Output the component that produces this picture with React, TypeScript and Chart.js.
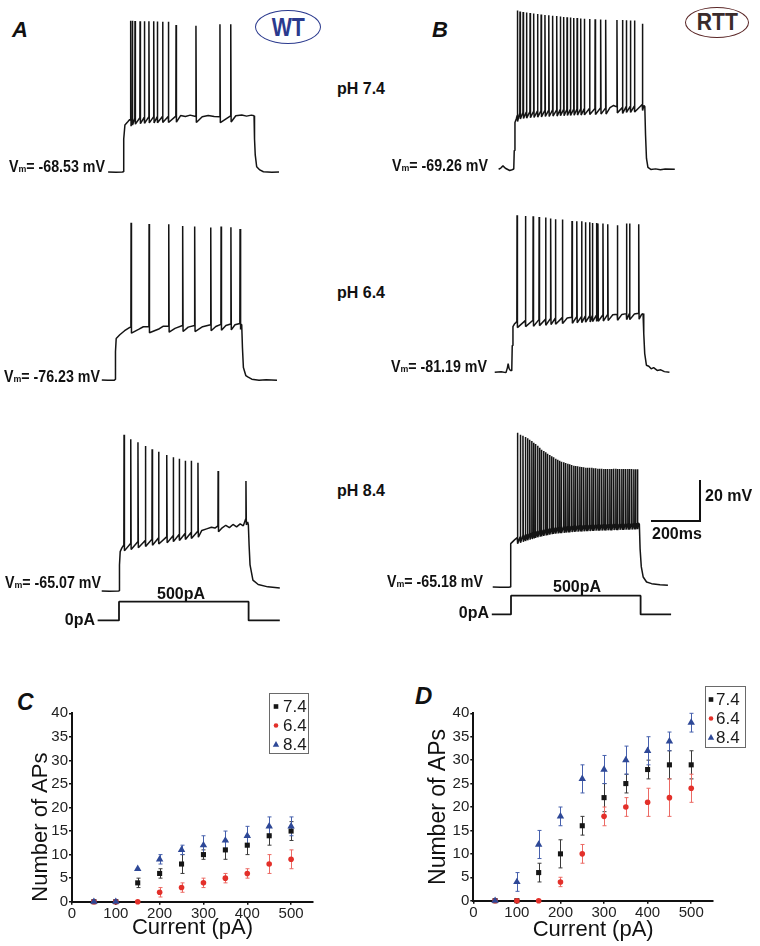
import React, { useEffect, useRef } from 'react';
import { Chart, registerables } from 'chart.js';

Chart.register(...registerables);

const FONT = '"Liberation Sans", Arial, Helvetica, sans-serif';
Chart.defaults.font.family = FONT;

// ================= DATA =================
// Panels C & D: number of APs vs injected current
const CURRENT_PA = [50, 100, 150, 200, 250, 300, 350, 400, 450, 500];
const PH_LABELS = ['7.4', '6.4', '8.4'];

const C_PH74 = [0, 0, 4, 6, 8, 10, 11, 12, 14, 15];
const C_PH74_ERR = [0, 0, 1, 1, 2, 1, 2, 2, 2, 2];
const C_PH64 = [0, 0, 0, 2, 3, 4, 5, 6, 8, 9];
const C_PH64_ERR = [0, 0, 0, 1, 1, 1, 1, 1, 2, 2];
const C_PH84 = [0, 0, 7, 9, 11, 12, 13, 14, 16, 16];
const C_PH84_ERR = [0, 0, 0, 1, 1, 2, 2, 2, 2, 2];

const D_PH74 = [0, 0, 6, 10, 16, 22, 25, 28, 29, 29];
const D_PH74_ERR = [0, 0, 2, 3, 2, 3, 2, 2, 3, 3];
const D_PH64 = [0, 0, 0, 4, 10, 18, 20, 21, 22, 24];
const D_PH64_ERR = [0, 0, 0, 1, 2, 2, 2, 3, 4, 3];
const D_PH84 = [0, 4, 12, 18, 26, 28, 30, 32, 34, 38];
const D_PH84_ERR = [0, 2, 3, 2, 3, 3, 3, 3, 2, 2];

// Voltage traces (time in ms from step onset, membrane potential in mV)
const STEP_PA = 500;
const STEP_MS = 540;
const SCALE_BAR_MS = 200;
const SCALE_BAR_MV = 20;

// WT pH 7.4
const WT74_VM = -68.53;
const WT74_SHAPE = [[-62, -68.5], [-30, -68.7], [-2, -68.5], [0, -68.4], [3, -52], [8, -45], [20, -43.4], [28, -42.3],
  [240, -40.3], [260, -40.8], [280, -40.1], [330, -40.9], [355, -40.3], [380, -40.8], [470, -40.4], [495, -40], [515, -40.6],
  [535, -40.1], [546, -40.4], [548, -52], [551, -60], [557, -65.9], [570, -67.5], [585, -68.4], [620, -68.6], [650, -68.5]];
const WT74_SPIKE_T = [32, 39, 50, 71, 89, 108, 128, 143, 165, 189, 221, 304, 404, 449];
const WT74_SPIKE_PEAK = [7.1, 7.1, 7.0, 6.9, 6.9, 6.8, 6.8, 6.7, 6.6, 6.6, 5.0, 4.6, 5.3, 5.3];
const WT74_SPIKE_BASE = [-42.6, -42, -41.6, -41.4, -41.2, -41, -41, -40.9, -40.8, -40.8, -40.6, -40.8, -40.9, -40.5];

// WT pH 6.4
const WT64_VM = -76.23;
const WT64_SHAPE = [[-55, -76.2], [-30, -76.4], [-2, -76.3], [0, -76], [2, -62], [5, -55.5], [20, -53.6], [40, -51.6], [60, -50],
  [100, -50.8], [118, -49.6], [185, -50.6], [200, -49.4], [250, -50.4], [305, -49.8], [365, -49.6], [420, -49.5], [462, -49],
  [500, -48.6], [524, -48.3], [528, -48.6], [531, -60], [535, -70], [545, -74], [555, -74.8], [570, -75.8], [600, -76.4],
  [630, -76.1], [675, -76.3]];
const WT64_SPIKE_T = [67, 142, 224, 282, 332, 399, 442, 483, 521];
const WT64_SPIKE_PEAK = [2.4, 1.8, 1.6, 0.8, 0.5, 0, 0.5, 0.2, -0.7];
const WT64_SPIKE_BASE = [-49.8, -49.6, -49.3, -49, -49, -48.6, -48.4, -48.2, -48];

// WT pH 8.4
const WT84_VM = -65.07;
const WT84_SHAPE = [[-72, -65.1], [-40, -65.2], [-2, -65.1], [0, -65], [2, -52], [5, -45.4], [12, -43.5],
  [345, -34.8], [365, -34], [385, -33.2], [400, -33.6], [430, -33.5], [445, -32.2], [460, -33.4], [475, -31.8], [490, -33],
  [505, -31.5], [518, -32.5], [536, -30.5], [539, -32], [542, -42], [546, -52], [558, -59.6], [580, -61.8], [620, -63], [670, -63.6]];
const WT84_SPIKE_T = [21, 49, 79, 110, 138, 165, 199, 226, 251, 276, 301, 329, 413, 529];
const WT84_SPIKE_PEAK = [13.0, 10.8, 9.3, 7.4, 5.8, 4.6, 2.9, 1.8, 1.1, 0.1, 0.1, -0.9, -5.1, -10.1];
const WT84_SPIKE_BASE = [-42, -41.3, -40.5, -39.8, -39.2, -38.6, -38, -37.4, -36.8, -36.3, -35.8, -35.2, -32.5, -29];

// RTT pH 7.4
const RTT74_VM = -69.26;
const RTT74_SHAPE = [[-64, -69.4], [-55, -68.8], [-46, -67.7], [-36, -68.9], [-18, -70], [-8, -69.6], [-1, -69.3], [1, -60],
  [4, -46], [10, -44], [400, -38.6], [415, -37.5], [541, -37.5], [545, -38], [548, -52], [552, -64], [558, -68.5], [570, -69.5],
  [590, -69.2], [610, -69.6], [630, -69.3], [670, -69.4]];
const RTT74_SPIKE_T = [14, 25, 38, 52, 67, 82, 98, 113, 129, 145, 161, 178, 193, 207, 221, 235, 249, 263, 278, 293, 315, 338,
  361, 382, 429, 452, 468, 485, 502, 535];
const RTT74_SPIKE_PEAK = [10, 9.5, 9.2, 9.0, 8.8, 8.5, 8.3, 8.0, 7.8, 7.6, 7.4, 7.2, 7.0, 6.8, 6.6, 6.5, 6.3, 6.2, 6.0, 5.9,
  5.8, 5.6, 5.5, 5.4, 5.3, 5.2, 5.1, 5.0, 5.0, 3.4];
const RTT74_SPIKE_BASE = [-42.5, -41.3, -41, -40.8, -40.6, -40.5, -40.3, -40.2, -40, -40, -39.8, -39.8, -39.6, -39.6, -39.5,
  -39.5, -39.4, -39.3, -39.3, -39.2, -39, -39, -38.8, -38.8, -38.2, -38.5, -38, -38, -37.8, -37];

// RTT pH 6.4
const RTT64_VM = -81.19;
const RTT64_SHAPE = [[-72, -81.3], [-45, -81.1], [-25, -81.5], [-19, -79], [-16, -77], [-12, -79.5], [-6, -80.5], [-1, -80.5],
  [1, -68], [4, -58.5], [10, -57.2], [16, -56.5], [230, -54.2], [420, -52.6], [458, -52.4], [510, -52.2], [540, -52.4], [546, -52],
  [549, -62], [553, -72], [560, -77.8], [570, -78.3], [580, -79.6], [590, -79], [605, -80.4], [620, -80.1], [635, -81], [656, -81.3]];
const RTT64_SPIKE_T = [21, 56, 88, 113, 140, 161, 181, 210, 250, 270, 290, 306, 324, 335, 352, 358, 379, 399, 439, 477, 490, 528];
const RTT64_SPIKE_PEAK = [-2.8, -3.2, -3.3, -3.7, -4.0, -4.5, -4.8, -5.0, -5.7, -5.8, -5.8, -6.3, -6.3, -6.7, -6.7, -7.0, -7.0,
  -7.3, -7.8, -7.0, -7.0, -7.3];
const RTT64_SPIKE_BASE = [-56, -55.5, -55.3, -55, -54.8, -54.5, -54.3, -54, -53.8, -53.6, -53.5, -53.3, -53.2, -53, -52.9, -52.8,
  -52.7, -52.5, -52.3, -52, -52, -51.8];

// RTT pH 8.4
const RTT84_VM = -65.18;
const RTT84_SHAPE = [[-72, -65.2], [-40, -65.3], [-5, -65.3], [0, -65.2], [2, -52], [4, -43.5], [20, -41.5], [535, -33.2],
  [539, -33.8], [542, -46], [547, -55], [555, -60.2], [569, -62.7], [590, -63.5], [625, -64], [658, -64.3]];
const RTT84_SPIKE_T = [31, 43, 54, 64, 73, 82, 91, 99, 106, 115, 124, 131, 140, 149, 156, 165, 174, 181, 190, 199,
  207, 214, 224, 232, 241, 248, 257, 266, 273, 282, 291, 298, 307, 316, 323, 332, 341, 348, 357, 366,
  373, 382, 391, 398, 407, 416, 423, 432, 441, 448, 457, 466, 473, 482, 491, 498, 507, 516, 523, 531];
const RTT84_SPIKE_PEAK = [12.0, 11.0, 10.5, 9.8, 9.2, 8.5, 7.8, 7.0, 6.3, 5.5, 4.5, 3.5, 2.8, 2.2, 1.5, 0.8, 0.2, -0.3, -1.0, -1.5,
  -2.0, -2.5, -2.8, -3.2, -3.5, -3.8, -4.2, -4.5, -4.7, -4.8, -5.0, -5.2, -5.3, -5.5, -5.5, -5.6, -5.6, -5.8, -5.8, -6.0,
  -6.0, -6.0, -6.2, -6.2, -6.2, -6.2, -6.2, -6.0, -6.0, -6.2, -6.2, -6.2, -6.2, -6.2, -6.2, -6.2, -6.2, -6.3, -6.3, -6.3];
const RTT84_SPIKE_BASE = [-40.5, -40, -39.6, -39.2, -38.8, -38.5, -38.2, -37.9, -37.6, -37.3, -37, -36.8, -36.6, -36.4, -36.2,
  -36, -35.8, -35.6, -35.5, -35.4, -35.3, -35.2, -35.1, -35, -34.9, -34.8, -34.7, -34.6, -34.5, -34.5, -34.4, -34.4, -34.3,
  -34.3, -34.2, -34.2, -34.1, -34.1, -34, -34, -34, -33.9, -33.9, -33.9, -33.8, -33.8, -33.8, -33.7, -33.7, -33.7, -33.6,
  -33.6, -33.6, -33.5, -33.5, -33.5, -33.4, -33.4, -33.4, -33.3];

// Current-step protocol
const STEP_A_T = [-89, 0, 0, STEP_MS, STEP_MS, 670];
const STEP_B_T = [-80, 0, 0, STEP_MS, STEP_MS, 667];
const STEP_I = [0, 0, STEP_PA, STEP_PA, 0, 0];

// ================= LAYOUT CONSTANTS =================
const PX_PER_MS = 0.24;
const PX_PER_MV = 2;
const PX_PER_PA = 0.0375;
const T_MIN = -100;
const T_MAX = 850;
const V_BELOW = 15;
const V_ABOVE = 85;
const PA_MIN = -150;
const PA_MAX = 650;

function buildTrace(shape: number[][], ts: number[], peaks: number[], bases: number[]) {
  const pts: { x: number; y: number }[] = shape.map(([x, y]) => ({ x, y }));
  ts.forEach((t, i) => {
    pts.push({ x: t - 0.8, y: bases[i] }, { x: t, y: peaks[i] }, { x: t + 1.6, y: bases[i] - 3 });
  });
  pts.sort((a, b) => a.x - b.x);
  return pts;
}

function lineConfig(points: any[], yMin: number, yMax: number, plugins: any[] = [], width = 1.5) {
  return {
    type: 'line',
    data: {
      datasets: [{
        data: points, borderColor: '#141414', borderWidth: width, pointRadius: 0, tension: 0,
        fill: false, borderJoinStyle: 'bevel', clip: false,
      }],
    },
    options: {
      animation: false, responsive: false, events: [],
      layout: { padding: 0 },
      plugins: { legend: { display: false }, tooltip: { enabled: false } },
      scales: {
        x: { type: 'linear', min: T_MIN, max: T_MAX, display: false },
        y: { type: 'linear', min: yMin, max: yMax, display: false },
      },
    },
    plugins,
  };
}

function scaleBarPlugin(anchorT: number, anchorV: number) {
  return {
    id: 'scaleBar',
    afterDraw(chart: any) {
      const { ctx, scales } = chart;
      const x1 = scales.x.getPixelForValue(anchorT - SCALE_BAR_MS);
      const x2 = scales.x.getPixelForValue(anchorT);
      const y0 = scales.y.getPixelForValue(anchorV);
      const y1 = scales.y.getPixelForValue(anchorV + SCALE_BAR_MV);
      ctx.save();
      ctx.strokeStyle = '#111';
      ctx.lineWidth = 2;
      ctx.lineCap = 'square';
      ctx.beginPath();
      ctx.moveTo(x1, y0);
      ctx.lineTo(x2, y0);
      ctx.lineTo(x2, y1);
      ctx.stroke();
      ctx.restore();
    },
  };
}

const errorBarPlugin = {
  id: 'errorBars',
  beforeDatasetsDraw(chart: any) {
    const { ctx, scales } = chart;
    ctx.save();
    chart.data.datasets.forEach((ds: any) => {
      const errs = ds.errors;
      if (!errs) return;
      ctx.strokeStyle = ds.errorColor;
      ctx.lineWidth = 1;
      ds.data.forEach((pt: any, j: number) => {
        const e = errs[j];
        if (!e) return;
        const px = Math.round(scales.x.getPixelForValue(pt.x)) + 0.5;
        const y1 = scales.y.getPixelForValue(pt.y + e);
        const y2 = scales.y.getPixelForValue(pt.y - e);
        ctx.beginPath();
        ctx.moveTo(px, y1); ctx.lineTo(px, y2);
        ctx.moveTo(px - 2, y1); ctx.lineTo(px + 2, y1);
        ctx.moveTo(px - 2, y2); ctx.lineTo(px + 2, y2);
        ctx.stroke();
      });
    });
    ctx.restore();
  },
};

function drawMarker(ctx: any, style: string, x: number, y: number, color: string) {
  ctx.fillStyle = color;
  ctx.beginPath();
  if (style === 'rect') {
    ctx.rect(x - 2.3, y - 2.3, 4.6, 4.6);
  } else if (style === 'circle') {
    ctx.arc(x, y, 2.3, 0, Math.PI * 2);
  } else {
    ctx.moveTo(x, y - 3.4);
    ctx.lineTo(x + 3.2, y + 2.2);
    ctx.lineTo(x - 3.2, y + 2.2);
    ctx.closePath();
  }
  ctx.fill();
}

function boxLegendPlugin(lg: any) {
  return {
    id: 'boxLegend',
    afterDraw(chart: any) {
      const { ctx } = chart;
      ctx.save();
      ctx.strokeStyle = '#6a6a6a';
      ctx.lineWidth = 1;
      ctx.strokeRect(lg.x + 0.5, lg.y + 0.5, lg.w, lg.h);
      chart.data.datasets.forEach((ds: any, i: number) => {
        const cy = lg.y + lg.row0 + i * lg.rowGap;
        drawMarker(ctx, ds.pointStyle, lg.markerX, cy, ds.pointBackgroundColor);
        ctx.fillStyle = '#1a1a1a';
        ctx.font = `17px ${FONT}`;
        ctx.textBaseline = 'middle';
        ctx.textAlign = 'left';
        ctx.fillText(ds.label, lg.textX, cy + 1);
      });
      ctx.restore();
    },
  };
}

function apConfig(series: number[][], errors: number[][], L: any) {
  const styles = [
    { pointStyle: 'rect', pointRadius: 3.6, color: '#161616', err: '#3a3a3a', order: 2 },
    { pointStyle: 'circle', pointRadius: 2.8, color: '#e3302a', err: '#ec6a64', order: 1 },
    { pointStyle: 'triangle', pointRadius: 4.3, color: '#2e4897', err: '#4660ad', order: 0 },
  ];
  const tickFont = { size: 15, family: FONT };
  return {
    type: 'scatter',
    data: {
      datasets: series.map((vals, i) => ({
        label: PH_LABELS[i],
        data: CURRENT_PA.map((x, j) => ({ x, y: vals[j] })),
        errors: errors[i],
        errorColor: styles[i].err,
        pointStyle: styles[i].pointStyle,
        pointRadius: styles[i].pointRadius,
        pointBackgroundColor: styles[i].color,
        backgroundColor: styles[i].color,
        borderColor: styles[i].color,
        pointBorderWidth: 0,
        showLine: false,
        clip: false,
        order: styles[i].order,
      })),
    },
    options: {
      animation: false, responsive: false, events: [],
      layout: { padding: L.padding },
      plugins: { legend: { display: false }, tooltip: { enabled: false } },
      scales: {
        x: {
          type: 'linear', min: 0, max: 550,
          afterFit: (s: any) => { s.height = L.xAxisH; },
          ticks: { stepSize: 100, includeBounds: false, font: tickFont, color: '#222', padding: 0, maxRotation: 0 },
          grid: { display: true, drawOnChartArea: false, drawTicks: true, tickLength: 3, color: '#111', lineWidth: 1.5 },
          border: { display: true, color: '#111', width: 2 },
          title: {
            display: true, text: 'Current (pA)', color: '#111',
            font: { size: 22, family: FONT }, padding: { top: 0, bottom: L.xTitlePad },
          },
        },
        y: {
          type: 'linear', min: 0, max: 40,
          afterFit: (s: any) => { s.width = L.yAxisW; },
          ticks: { stepSize: 5, font: tickFont, color: '#222', padding: 1 },
          grid: { display: true, drawOnChartArea: false, drawTicks: true, tickLength: 3, color: '#111', lineWidth: 1.5 },
          border: { display: true, color: '#111', width: 2 },
          title: {
            display: true, text: 'Number of APs', color: '#111', align: L.yTitleAlign,
            font: { size: L.yTitleSize, family: FONT }, padding: { top: L.yTitlePad, bottom: 0 },
          },
        },
      },
    },
    plugins: [errorBarPlugin, boxLegendPlugin(L.legend)],
  };
}

// ================= COMPONENTS =================
function ChartCanvas({ left, top, width, height, make }: any) {
  const ref = useRef<HTMLCanvasElement>(null);
  useEffect(() => {
    const chart = new Chart(ref.current as HTMLCanvasElement, make());
    return () => chart.destroy();
  }, []);
  return (
    <canvas ref={ref} width={Math.round(width)} height={Math.round(height)}
      style={{ position: 'absolute', left, top, width: Math.round(width), height: Math.round(height) }} />
  );
}

function Trace({ riseX, baseY, vm, shape, ts, peaks, bases, plugins }: any) {
  const width = (T_MAX - T_MIN) * PX_PER_MS;
  const height = (V_ABOVE + V_BELOW) * PX_PER_MV;
  return (
    <ChartCanvas left={riseX + T_MIN * PX_PER_MS} top={baseY - V_ABOVE * PX_PER_MV} width={width} height={height}
      make={() => lineConfig(buildTrace(shape, ts, peaks, bases), vm - V_BELOW, vm + V_ABOVE, plugins || [])} />
  );
}

function StepTrace({ riseX, zeroY, ts }: any) {
  const width = (T_MAX - T_MIN) * PX_PER_MS;
  const height = (PA_MAX - PA_MIN) * PX_PER_PA;
  const pts = ts.map((t: number, i: number) => ({ x: t, y: STEP_I[i] }));
  return (
    <ChartCanvas left={riseX + T_MIN * PX_PER_MS} top={zeroY - PA_MAX * PX_PER_PA} width={width} height={height}
      make={() => lineConfig(pts, PA_MIN, PA_MAX, [], 1.8)} />
  );
}

function Txt({ x, y, children, size = 16, align = 'left', italic = false, sx = 1, color = '#111' }: any) {
  const tx = align === 'center' ? '-50%' : '0';
  const style: any = {
    position: 'absolute', top: y, fontSize: size, fontWeight: 700, lineHeight: 1, whiteSpace: 'nowrap',
    fontStyle: italic ? 'italic' : 'normal', color, fontFamily: FONT,
    transform: `translate(${tx}, -50%) scaleX(${sx})`,
    transformOrigin: align === 'right' ? 'right center' : align === 'center' ? 'center center' : 'left center',
  };
  if (align === 'right') style.right = 760 - x; else style.left = x;
  return <div style={style}>{children}</div>;
}

function Vm({ x, y, value }: any) {
  return (
    <Txt x={x} y={y} align="right" sx={0.89}>
      V<span style={{ fontSize: '0.62em' }}>m</span>= {value} mV
    </Txt>
  );
}

function Oval({ left, top, w, h, text, color, textColor, size, sx }: any) {
  return (
    <div style={{
      position: 'absolute', left, top, width: w, height: h, boxSizing: 'border-box',
      border: `1.6px solid ${color}`, borderRadius: '50%', display: 'flex', alignItems: 'center', justifyContent: 'center',
    }}>
      <span style={{ fontFamily: FONT, fontWeight: 700, fontSize: size, color: textColor, lineHeight: 1, display: 'inline-block', transform: `scaleX(${sx})` }}>{text}</span>
    </div>
  );
}

const C_LAYOUT = {
  padding: { left: 0, top: 23.3, right: 17, bottom: 0 }, yAxisW: 72, xAxisH: 44.3,
  yTitleSize: 22, yTitleAlign: 'start', yTitlePad: 28, xTitlePad: 5,
  legend: { x: 269, y: 3, w: 39, h: 60, markerX: 276, textX: 283, row0: 13.5, rowGap: 19 },
};
const D_LAYOUT = {
  padding: { left: 0, top: 33.3, right: 47, bottom: 0 }, yAxisW: 93.3, xAxisH: 45.3,
  yTitleSize: 23, yTitleAlign: 'center', yTitlePad: 44.7, xTitlePad: 3,
  legend: { x: 325, y: 6, w: 40, h: 61, markerX: 331, textX: 336, row0: 13.5, rowGap: 19 },
};

export default function App() {
  return (
    <div style={{ position: 'absolute', left: 0, top: 0, width: 760, height: 946, background: '#fff', overflow: 'hidden', fontFamily: FONT }}>
      {/* Panel labels */}
      <Txt x={12} y={30} size={22} italic>A</Txt>
      <Txt x={432} y={30} size={22} italic>B</Txt>
      <Txt x={17} y={702} size={23} italic>C</Txt>
      <Txt x={415} y={696} size={24} italic>D</Txt>

      <Oval left={255} top={10} w={66} h={34} text="WT" color="#2b3a8e" textColor="#2b3a8e" size={26} sx={0.82} />
      <Oval left={685} top={7} w={64} h={31} text="RTT" color="#5a2626" textColor="#3a2b2b" size={23} sx={0.92} />

      <Txt x={337} y={89}>pH 7.4</Txt>
      <Txt x={337} y={293}>pH 6.4</Txt>
      <Txt x={337} y={491}>pH 8.4</Txt>

      {/* WT traces */}
      <Trace riseX={123} baseY={172} vm={WT74_VM} shape={WT74_SHAPE} ts={WT74_SPIKE_T} peaks={WT74_SPIKE_PEAK} bases={WT74_SPIKE_BASE} />
      <Trace riseX={115} baseY={380} vm={WT64_VM} shape={WT64_SHAPE} ts={WT64_SPIKE_T} peaks={WT64_SPIKE_PEAK} bases={WT64_SPIKE_BASE} />
      <Trace riseX={119} baseY={591} vm={WT84_VM} shape={WT84_SHAPE} ts={WT84_SPIKE_T} peaks={WT84_SPIKE_PEAK} bases={WT84_SPIKE_BASE} />
      {/* RTT traces */}
      <Trace riseX={514.3} baseY={169.3} vm={RTT74_VM} shape={RTT74_SHAPE} ts={RTT74_SPIKE_T} peaks={RTT74_SPIKE_PEAK} bases={RTT74_SPIKE_BASE} />
      <Trace riseX={512.3} baseY={371.7} vm={RTT64_VM} shape={RTT64_SHAPE} ts={RTT64_SPIKE_T} peaks={RTT64_SPIKE_PEAK} bases={RTT64_SPIKE_BASE} />
      <Trace riseX={510} baseY={586.7} vm={RTT84_VM} shape={RTT84_SHAPE} ts={RTT84_SPIKE_T} peaks={RTT84_SPIKE_PEAK} bases={RTT84_SPIKE_BASE}
        plugins={[scaleBarPlugin(791.7, -32.2)]} />

      <StepTrace riseX={119.3} zeroY={620.7} ts={STEP_A_T} />
      <StepTrace riseX={511} zeroY={614} ts={STEP_B_T} />

      <Vm x={105} y={167} value={WT74_VM.toFixed(2)} />
      <Vm x={100} y={377} value={WT64_VM.toFixed(2)} />
      <Vm x={101} y={583} value={WT84_VM.toFixed(2)} />
      <Vm x={488} y={166} value={RTT74_VM.toFixed(2)} />
      <Vm x={487} y={367} value={RTT64_VM.toFixed(2)} />
      <Vm x={483} y={582} value={RTT84_VM.toFixed(2)} />

      <Txt x={181} y={594} align="center">{STEP_PA}pA</Txt>
      <Txt x={577} y={587} align="center">{STEP_PA}pA</Txt>
      <Txt x={95} y={620} align="right">0pA</Txt>
      <Txt x={489} y={613} align="right">0pA</Txt>

      <Txt x={705} y={496}>{SCALE_BAR_MV} mV</Txt>
      <Txt x={652} y={534}>{SCALE_BAR_MS}ms</Txt>

      {/* Panels C and D */}
      <ChartCanvas left={0} top={690} width={330} height={256}
        make={() => apConfig([C_PH74, C_PH64, C_PH84], [C_PH74_ERR, C_PH64_ERR, C_PH84_ERR], C_LAYOUT)} />
      <ChartCanvas left={380} top={680} width={380} height={266}
        make={() => apConfig([D_PH74, D_PH64, D_PH84], [D_PH74_ERR, D_PH64_ERR, D_PH84_ERR], D_LAYOUT)} />
    </div>
  );
}
